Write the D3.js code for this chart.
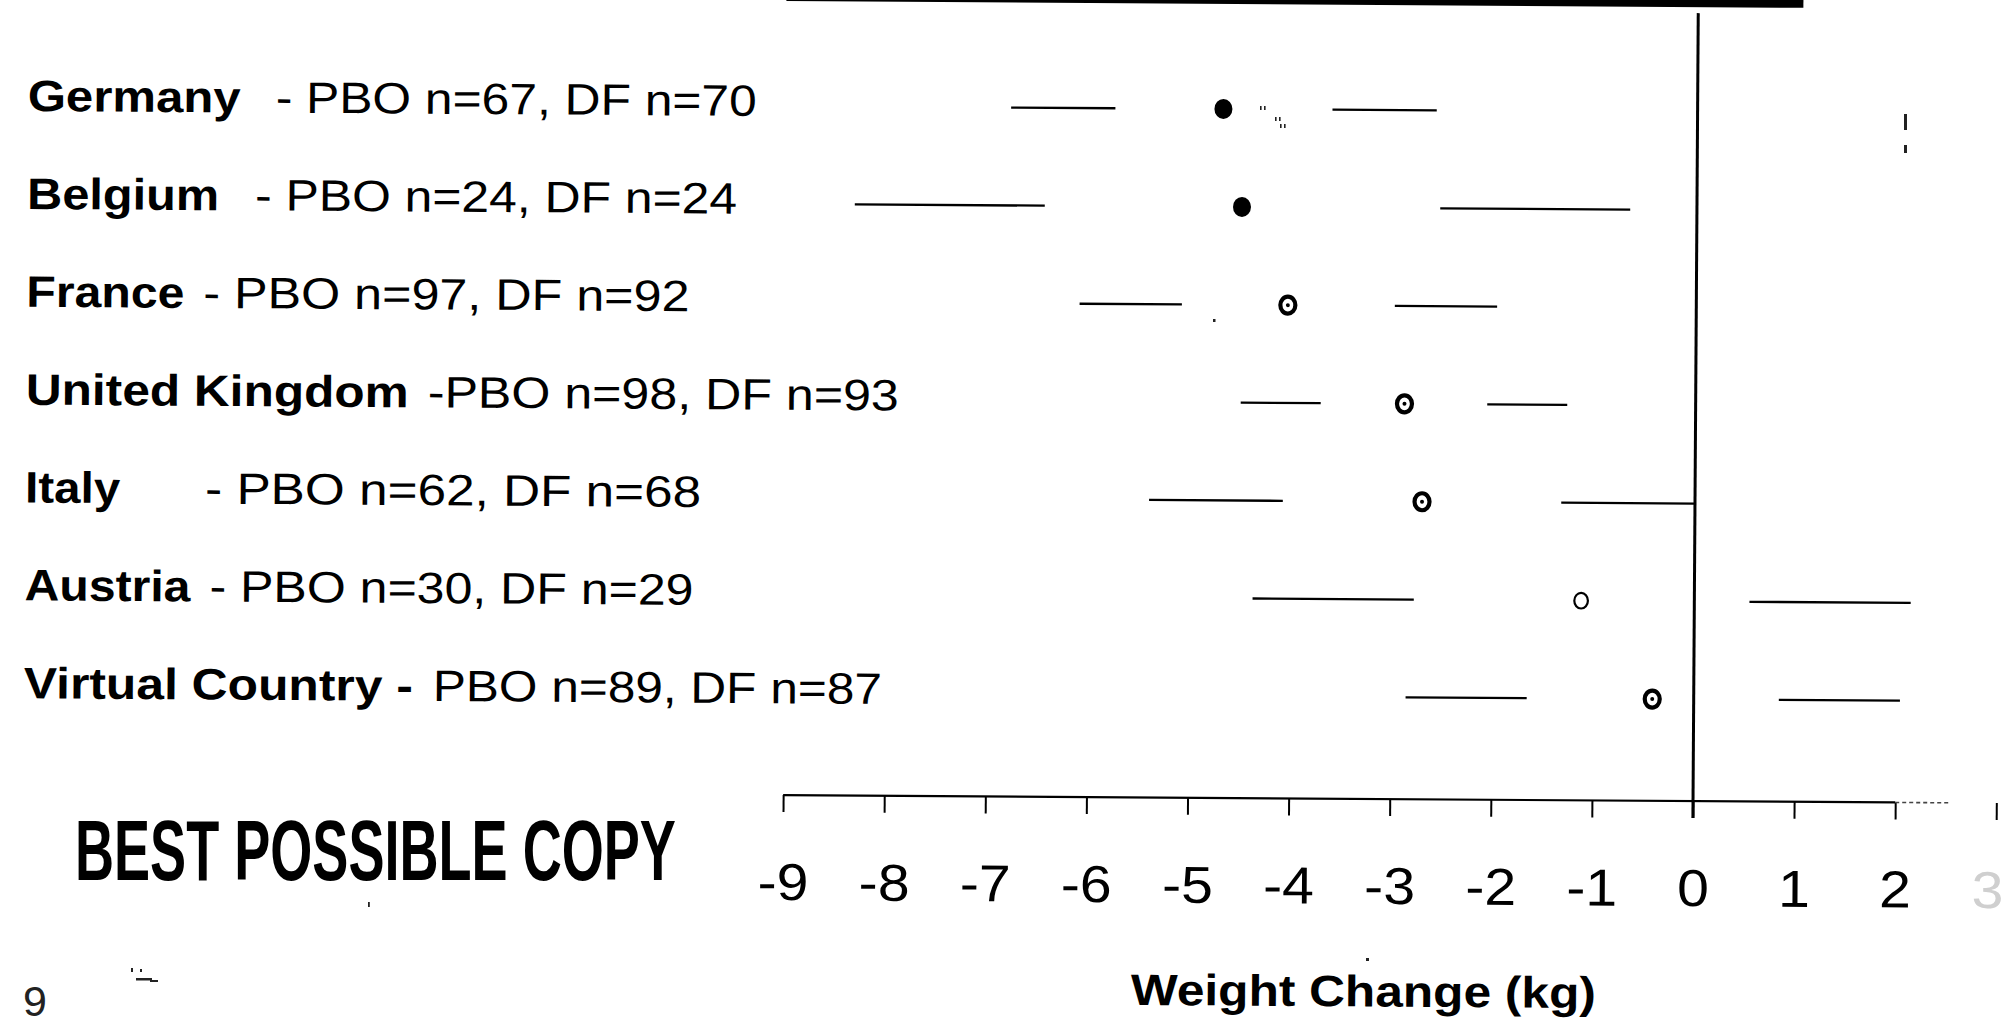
<!DOCTYPE html>
<html>
<head>
<meta charset="utf-8">
<script src="https://cdn.jsdelivr.net/npm/d3@7"></script>
<style>
  html, body { margin: 0; padding: 0; background: #fff; }
  svg { display: block; }
  text { font-family: "Liberation Sans", Arial, Helvetica, sans-serif; }
</style>
</head>
<body>
<svg id="chart" width="2007" height="1029"></svg>
<script>
// Country subgroups, top to bottom
const countries = ["Germany", "Belgium", "France", "United Kingdom", "Italy", "Austria", "Virtual Country"];
const pboN = [67, 24, 97, 98, 62, 30, 89];
const dfN  = [70, 24, 92, 93, 68, 29, 87];

// Difference in weight change (kg): point estimate with lower / upper confidence limits
const estimate = [-4.69, -4.50, -4.04, -2.88, -2.70, -1.12, -0.41];
const lowerCI  = [-6.79, -8.33, -6.10, -4.50, -5.40, -4.37, -2.85];
const upperCI  = [-2.58, -0.66, -1.97, -1.27,  0.00,  2.14,  2.04];

// Axis
const tickValues = [-9, -8, -7, -6, -5, -4, -3, -2, -1, 0, 1, 2, 3];
const axisTitle = "Weight Change (kg)";

// Label pieces: separator between country name and sample sizes
const separators = ["- ", "- ", "- ", "-", "-  ", "- ", "- "];
const boldSeparator = [false, false, false, false, false, false, true];

// ---- layout / style (not data) ----
const W = 2007, H = 1029;
const markerStyle = ["filled", "filled", "ring", "ring", "ring", "open", "ring"];
// horizontal extents of the bold name and the plain remainder of each row label
const nameSpan = [[25, 238], [25, 217], [25, 183], [25, 408], [25, 120], [25, 191], [25, 414]];
const restSpan = [[273, 754], [253, 735], [202, 688], [427, 898], [205, 701], [210, 694], [434, 883]];
const labelSize = 44;

const svg = d3.select("#chart");
svg.append("rect").attr("width", W).attr("height", H).attr("fill", "#fff");

// the printed page sits very slightly askew
const g = svg.append("g").attr("transform", "rotate(0.38,1000,515)");

const x = d3.scaleLinear().domain([-9, 3]).range([785, 785 + 12 * 101.1]);
const y = d3.scalePoint().domain(countries).range([107.5, 694.7]);
const axisY = 796.5;

// heavy rule along the top of the frame
g.append("rect")
  .attr("x", 783).attr("y", -12)
  .attr("width", 1800 - 783).attr("height", 14.5)
  .attr("fill", "#000");

// zero reference line
g.append("line")
  .attr("x1", x(0)).attr("x2", x(0))
  .attr("y1", 8.5).attr("y2", 813.5)
  .attr("stroke", "#000").attr("stroke-width", 3);

// axis
const axis = d3.axisBottom(x)
  .tickValues(tickValues)
  .tickSize(17)
  .tickSizeOuter(0)
  .tickFormat(d => String(d));

const ag = g.append("g")
  .attr("transform", `translate(0,${axisY})`)
  .call(axis);
ag.attr("font-family", null).attr("font-size", null);
ag.select(".domain").remove();
ag.selectAll(".tick line").attr("stroke", "#000").attr("stroke-width", 2);
ag.selectAll(".tick text")
  .attr("x", d => d === 3 ? -8 : 0)
  .attr("y", 105).attr("dy", null)
  .attr("transform", "scale(1.1,1)")
  .attr("font-size", 52)
  .attr("font-family", "'Liberation Sans', Arial, sans-serif")
  .attr("fill", d => d === 3 ? "#cfcfcf" : "#000");

// axis baseline: solid, fading into a dotted run at the right end
ag.append("line")
  .attr("x1", x(-9)).attr("x2", x(2.0))
  .attr("y1", 0).attr("y2", 0)
  .attr("stroke", "#000").attr("stroke-width", 2.2);
ag.append("line")
  .attr("x1", x(2.0)).attr("x2", x(2.55))
  .attr("y1", 0).attr("y2", 0)
  .attr("stroke", "#444").attr("stroke-width", 1.6)
  .attr("stroke-dasharray", "4,3");

// confidence intervals: only the outer quarter at each end is inked
const rows = countries.map((c, i) => ({
  country: c, est: estimate[i], lo: lowerCI[i], hi: upperCI[i],
  style: markerStyle[i], i
}));

const frac = 0.245;
g.selectAll("line.ci")
  .data(rows)
  .join("line")
  .attr("class", "ci")
  .attr("x1", d => x(d.lo)).attr("x2", d => x(d.hi))
  .attr("y1", d => y(d.country)).attr("y2", d => y(d.country))
  .attr("stroke", "#000").attr("stroke-width", 2.3)
  .attr("stroke-dasharray", d => {
    const L = x(d.hi) - x(d.lo);
    return `${frac * L},${(1 - 2 * frac) * L},${frac * L}`;
  });

// point estimates
const pts = g.selectAll("g.pt")
  .data(rows)
  .join("g")
  .attr("class", "pt")
  .attr("transform", d => `translate(${x(d.est)},${y(d.country)})`);

pts.filter(d => d.style === "filled")
  .append("ellipse").attr("rx", 9).attr("ry", 10).attr("fill", "#000");

pts.filter(d => d.style === "ring")
  .append("ellipse").attr("rx", 7.5).attr("ry", 8.5)
  .attr("fill", "#fff").attr("stroke", "#000").attr("stroke-width", 4.2);
pts.filter(d => d.style === "ring")
  .append("circle").attr("r", 2).attr("fill", "#000");

pts.filter(d => d.style === "open")
  .append("ellipse").attr("rx", 6.8).attr("ry", 7.8)
  .attr("fill", "#fff").attr("stroke", "#000").attr("stroke-width", 2.2);

// row labels
const labels = g.selectAll("g.lab")
  .data(rows)
  .join("g")
  .attr("class", "lab");

labels.append("text")
  .attr("x", d => nameSpan[d.i][0])
  .attr("y", d => y(d.country) + 10)
  .attr("font-size", labelSize)
  .attr("font-weight", "bold")
  .attr("textLength", d => nameSpan[d.i][1] - nameSpan[d.i][0])
  .attr("lengthAdjust", "spacingAndGlyphs")
  .text(d => boldSeparator[d.i] ? `${d.country} -` : d.country);

labels.append("text")
  .attr("x", d => restSpan[d.i][0])
  .attr("y", d => y(d.country) + 10)
  .attr("font-size", labelSize)
  .attr("textLength", d => restSpan[d.i][1] - restSpan[d.i][0])
  .attr("lengthAdjust", "spacingAndGlyphs")
  .text(d => (boldSeparator[d.i] ? "" : separators[d.i]) + `PBO n=${pboN[d.i]}, DF n=${dfN[d.i]}`);

// axis title
g.append("text")
  .attr("x", 1134).attr("y", 1004)
  .attr("font-size", 44).attr("font-weight", "bold")
  .attr("textLength", 465).attr("lengthAdjust", "spacingAndGlyphs")
  .text(axisTitle);

// reproduction stamp: condensed heavy lettering squeezed to its printed width
const stamp = svg.append("text")
  .attr("x", 0).attr("y", 0)
  .attr("font-family", "'Liberation Sans Narrow', 'DejaVu Sans Condensed', 'Liberation Sans', sans-serif")
  .attr("font-size", 86).attr("font-weight", "bold")
  .attr("fill", "#000")
  .text("BEST POSSIBLE COPY");
const stampNatural = stamp.node().getComputedTextLength();
stamp.attr("transform", `translate(75,880) scale(${601 / stampNatural},1)`);

// page number
svg.append("text")
  .attr("x", 23).attr("y", 1016)
  .attr("font-size", 43).attr("fill", "#222")
  .text("9");

// stray toner marks on the printed page
const specks = [
  [1260, 106, 1.6, 4], [1264, 106, 1.6, 4],
  [1275, 117, 1.6, 4], [1279, 117, 1.6, 4],
  [1280, 124, 1.6, 4], [1284, 124, 1.6, 4],
  [1213, 319, 2.5, 3],
  [1904, 114, 3, 16], [1904, 145, 3, 8],
  [368, 902, 1.8, 5],
  [1366, 958, 3, 3],
  [131, 968, 2, 4], [140, 969, 2, 3], [136, 978, 16, 2.5], [150, 980, 8, 2]
];
svg.selectAll("rect.speck")
  .data(specks)
  .join("rect")
  .attr("class", "speck")
  .attr("x", d => d[0]).attr("y", d => d[1])
  .attr("width", d => d[2]).attr("height", d => d[3])
  .attr("fill", "#222");
</script>
</body>
</html>
